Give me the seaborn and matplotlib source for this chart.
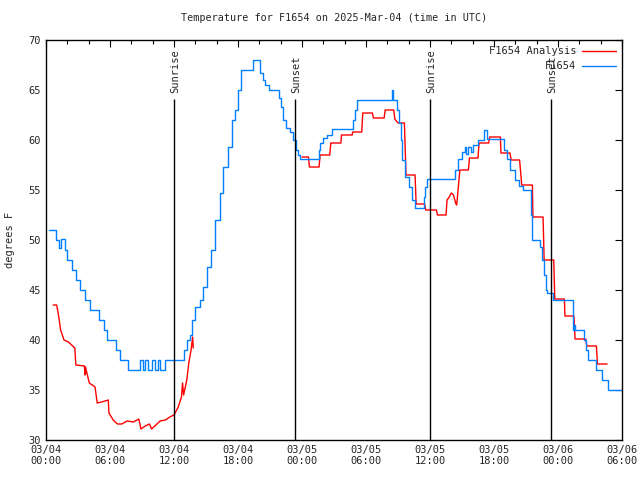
import matplotlib
matplotlib.use("Agg")
import matplotlib.pyplot as plt
import seaborn as sns
import pandas as pd
import numpy as np
from matplotlib.ticker import MultipleLocator

# hours since 03/04 00:00 UTC
obs_t = [0.3, 0.95, 1.2, 1.4, 1.8, 2.0, 2.4, 2.8, 3.2, 3.7, 4.1, 5.0, 5.4, 5.7,
         6.6, 6.9, 7.7, 8.8, 9.1, 9.3, 9.6, 9.9, 10.2, 10.5, 10.7, 11.2, 12.9,
         13.2, 13.5, 13.7, 14.0, 14.4, 14.75, 15.06, 15.5, 15.8, 16.3, 16.6,
         17.1, 17.4, 17.7, 18.0, 18.3, 19.4, 20.1, 20.3, 20.5, 20.9, 21.8, 22.0,
         22.2, 22.5, 22.9, 23.2, 23.4, 23.65, 23.85, 25.6, 25.7, 26.0, 26.3,
         26.8, 28.75, 28.97, 29.2, 32.4, 32.5, 32.9, 33.1, 33.25, 33.4, 33.66,
         34.0, 34.3, 34.6, 35.4, 35.55, 35.7, 38.3, 38.6, 39.0, 39.3, 39.4,
         39.6, 39.8, 40.0, 40.5, 41.1, 41.3, 42.9, 43.2, 43.5, 44.0, 44.3,
         44.7, 45.5, 45.6, 46.3, 46.5, 46.7, 46.85, 47.0, 47.5, 49.4, 49.5,
         49.6, 50.4, 50.6, 50.8, 51.6, 52.1, 52.7, 54.0]
obs_v = [51, 50, 49.2, 50.1, 49, 48, 47, 46, 45, 44, 43, 42, 41, 40,
         39, 38, 37, 38, 37, 38, 37, 38, 37, 38, 37, 38, 39,
         40, 40.5, 42, 43.3, 44, 45.3, 47.3, 49, 52, 54.7, 57.3,
         59.3, 62, 63, 65, 67, 68, 66.7, 66, 65.5, 65, 64.2, 63.3,
         62, 61.2, 60.8, 60, 59, 58.5, 58.1, 59, 59.7, 60.2, 60.5,
         61.1, 62, 63, 64, 65, 64, 63, 61.7, 60, 58, 56.3,
         55.3, 54, 53.2, 54.3, 55.3, 56.1, 57, 58.1, 58.8, 59.3, 58.6,
         59.3, 58.8, 59.5, 60, 61, 60.1, 59, 58.1, 57, 56, 55.4,
         55, 52.5, 50, 49.3, 48, 46.5, 45, 44.7, 44, 41, 41.5,
         41, 40, 39, 38, 37, 36, 35, 35]

ana1_t = [0.68, 1.0, 1.2, 1.37, 1.69, 2.1, 2.4, 2.7, 2.8, 3.6, 3.66, 3.7, 4.06,
          4.6, 4.8, 5.2, 5.84, 5.9, 6.3, 6.7, 7.1, 7.6, 8.2, 8.7, 8.9, 9.3,
          9.7, 9.9, 10.7, 11.2, 11.6, 12.0, 12.4, 12.7, 12.8, 12.9, 13.2,
          13.4, 13.6, 13.75, 13.8]
ana1_v = [43.5, 43.5, 42.3, 41, 40, 39.8, 39.5, 39.2, 37.5, 37.4, 36.5, 37.3, 35.7,
          35.3, 33.7, 33.8, 34, 32.7, 32, 31.6, 31.6, 31.9, 31.8, 32.1, 31.1, 31.4,
          31.6, 31.1, 31.9, 32, 32.3, 32.5, 33.3, 34.3, 35.7, 34.5, 36,
          37.8, 39, 40.3, 39.2]
ana2_t = [24.0, 24.6, 24.7, 25.6, 25.7, 26.6, 26.7, 27.65, 27.7, 28.7, 28.75,
          29.6, 29.7, 30.6, 30.7, 31.7, 31.8, 32.6, 32.7, 33.0, 33.6, 33.75,
          34.6, 34.7, 35.5, 35.6, 36.6, 36.7, 37.5, 37.6, 37.8, 38.0, 38.2,
          38.4, 38.5, 38.65, 38.8, 39.6, 39.7, 40.5, 40.6, 41.5, 41.6, 42.6,
          42.65, 43.5, 43.6, 44.4, 44.6, 45.6, 45.65, 46.6, 46.7, 47.6, 47.7,
          48.6, 48.65, 49.5, 49.6, 50.6, 50.7, 51.6, 51.7, 52.6]
ana2_v = [58.3, 58.3, 57.3, 57.3, 58.5, 58.5, 59.7, 59.7, 60.5, 60.5, 60.8,
          60.8, 62.7, 62.7, 62.2, 62.2, 63, 63, 62.1, 61.7, 61.7, 56.5,
          56.5, 53.6, 53.6, 53, 53, 52.5, 52.5, 54, 54.3, 54.7, 54.5,
          53.7, 53.5, 55.2, 57, 57, 58.2, 58.2, 59.7, 59.7, 60.3, 60.3,
          58.7, 58.7, 58, 58, 55.5, 55.5, 52.3, 52.3, 48, 48, 44.1,
          44.1, 42.4, 42.4, 40.1, 40.1, 39.4, 39.4, 37.6, 37.6]

sun_t = [12.0, 23.35, 36.0, 47.35]
sun_lbl = ['Sunrise', 'Sunset', 'Sunrise', 'Sunset']

xtick_t = list(range(0, 55, 6))
xtick_lbl = ['03/04\n00:00', '03/04\n06:00', '03/04\n12:00', '03/04\n18:00',
             '03/05\n00:00', '03/05\n06:00', '03/05\n12:00', '03/05\n18:00',
             '03/06\n00:00', '03/06\n06:00']

obs = pd.DataFrame({'t': obs_t, 'v': obs_v})
ana = pd.concat([pd.DataFrame({'t': ana1_t, 'v': ana1_v, 'seg': 1}),
                 pd.DataFrame({'t': ana2_t, 'v': ana2_v, 'seg': 2})])

sns.set_style('white')
plt.rcParams['font.family'] = ['DejaVu Sans Mono']
plt.rcParams['font.size'] = 7

fig = plt.figure(figsize=(6.4, 4.8), dpi=100)
ax = fig.add_axes([46 / 640, 40 / 480, 576 / 640, 400 / 480])

sns.lineplot(data=ana, x='t', y='v', units='seg', estimator=None, sort=False,
             color='#ff0000', lw=1, ax=ax, legend=False)
sns.lineplot(data=obs, x='t', y='v', estimator=None, sort=False,
             drawstyle='steps-post', color='#0080ff', lw=1, ax=ax, legend=False)

ax.vlines(sun_t, 30, 64.1, color='black', lw=1)
for t, s in zip(sun_t, sun_lbl):
    ax.text(t + 0.1, 64.7, s, rotation=90, ha='center', va='bottom', fontsize=7.5)

ax.set_xlim(0, 54)
ax.set_ylim(30, 70)
ax.set_xticks(xtick_t)
ax.set_xticklabels(xtick_lbl)
ax.xaxis.set_minor_locator(MultipleLocator(2))
ax.set_yticks(range(30, 71, 5))
ax.tick_params(which='both', direction='in', top=True, right=True, color='black',
               labelsize=7.5)
ax.tick_params(which='major', length=5, width=0.8)
ax.tick_params(which='minor', length=3, width=0.8)
for sp in ax.spines.values():
    sp.set_color('black')
    sp.set_linewidth(1)

ax.set_xlabel('')
ax.set_ylabel('degrees F', fontsize=7.5, labelpad=10)
ax.set_title('Temperature for F1654 on 2025-Mar-04 (time in UTC)', fontsize=7.3, pad=14)

handles = [ax.lines[0], ax.lines[2]]
ax.legend(handles, ['F1654 Analysis', 'F1654'], loc='upper right', frameon=False,
          markerfirst=False, handlelength=3.2, fontsize=7.5, borderaxespad=0.2,
          labelspacing=0.5, handletextpad=0.6)

plt.savefig('out.png', dpi=100)
plt.close()
